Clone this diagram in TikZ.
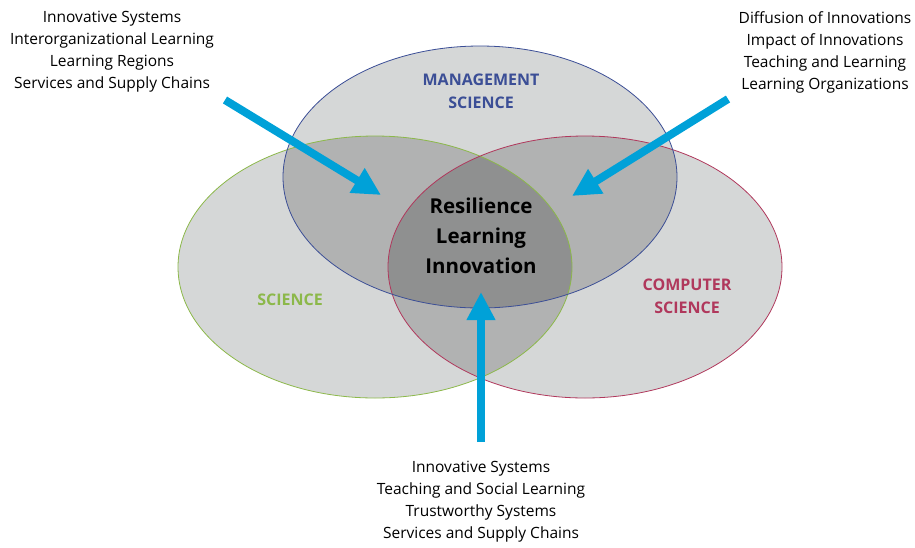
\documentclass[tikz,border=0pt]{standalone}
\usepackage{fontspec}
\setmainfont{Open Sans}
\usetikzlibrary{arrows.meta}
\definecolor{oneGray}{HTML}{D5D7D7}
\definecolor{twoGray}{HTML}{B1B2B2}
\definecolor{threeGray}{HTML}{8F9090}
\definecolor{mgmtBlue}{HTML}{3B4E96}
\definecolor{sciGreen}{HTML}{8CB84A}
\definecolor{compRed}{HTML}{B0385C}
\definecolor{pointerBlue}{HTML}{00A1D8}
\tikzset{topic/.style={align=center, font=\fontsize{15.5}{22}\selectfont}}
\tikzset{field/.style={align=center, font=\fontsize{16}{23}\selectfont\bfseries}}
\tikzset{pointer/.style={draw=pointerBlue, line width=8pt, -{Triangle[length=28pt, width=27pt]}}}
\tikzset{rings/.style={x radius=197pt, y radius=131pt}}

\begin{document}
\begin{tikzpicture}[x=1pt, y=-1pt]
            \useasboundingbox (0, 0) rectangle (915, 547);
            \coordinate (mgmt) at (480, 177);
            \coordinate (sci) at (375, 267);
            \coordinate (comp) at (585, 267);
            % single areas
            \fill[oneGray] (mgmt) ellipse [rings];
            \fill[oneGray] (sci) ellipse [rings];
            \fill[oneGray] (comp) ellipse [rings];
            % pairwise overlaps
            \begin{scope}
                \clip (mgmt) ellipse [rings];
                \fill[twoGray] (sci) ellipse [rings];
                \fill[twoGray] (comp) ellipse [rings];
            \end{scope}
            \begin{scope}
                \clip (sci) ellipse [rings];
                \fill[twoGray] (comp) ellipse [rings];
            \end{scope}
            % centre
            \begin{scope}
                \clip (mgmt) ellipse [rings];
                \clip (sci) ellipse [rings];
                \fill[threeGray] (comp) ellipse [rings];
            \end{scope}
            \draw[sciGreen, line width=0.8pt] (sci) ellipse [rings];
            \draw[compRed, line width=0.8pt] (comp) ellipse [rings];
            \draw[mgmtBlue, line width=0.8pt] (mgmt) ellipse [rings];

            \node[field, text=mgmtBlue] (mgmtlabel) at (481, 91) {MANAGEMENT\\SCIENCE};
            \node[field, text=sciGreen] (scilabel) at (290, 300) {SCIENCE};
            \node[field, text=compRed] (complabel) at (687, 296) {COMPUTER\\SCIENCE};
            \node[align=center, font=\fontsize{20.5}{30}\selectfont\bfseries] (core) at (481, 236) {Resilience\\Learning\\Innovation};

            \node[topic] (lefttopics) at (112, 52) {Innovative Systems\\Interorganizational Learning\\Learning Regions\\Services and Supply Chains};
            \node[topic] (righttopics) at (825, 52) {Diffusion of Innovations\\Impact of Innovations\\Teaching and Learning\\Learning Organizations};
            \node[topic] (bottomtopics) at (481, 502) {Innovative Systems\\Teaching and Social Learning\\Trustworthy Systems\\Services and Supply Chains};

            \coordinate (leftstart) at (225, 100);
            \coordinate (lefttip) at (381, 195);
            \coordinate (rightstart) at (728, 99);
            \coordinate (righttip) at (572, 196);
            \coordinate (bottomstart) at (481, 442);
            \coordinate (bottomtip) at (481, 292);
            \draw[pointer] (leftstart) -- (lefttip);
            \draw[pointer] (rightstart) -- (righttip);
            \draw[pointer] (bottomstart) -- (bottomtip);
        \end{tikzpicture}
\end{document}
